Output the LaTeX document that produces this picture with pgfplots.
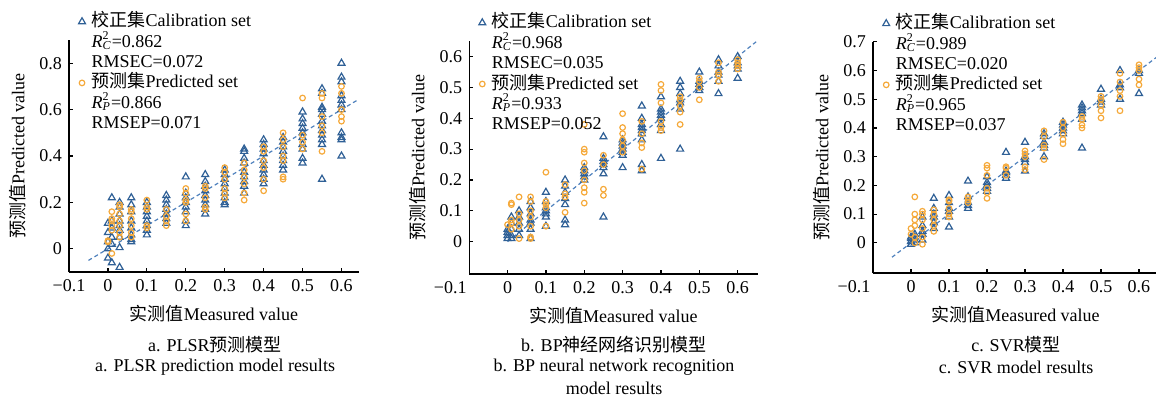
\documentclass[border=0pt]{standalone}
\usepackage{fontspec}
\setmainfont{Liberation Serif}
\newfontfamily\cjk{Noto Sans CJK SC}
\usepackage{pgfplots}
\pgfplotsset{compat=1.18}
\definecolor{calib}{HTML}{2F6096}
\definecolor{pred}{HTML}{F5A93A}
\definecolor{fitline}{HTML}{4F81BD}
\newcommand{\RC}{\textit{R}\rlap{\textsuperscript{2}}\textsubscript{\textit{C}}}
\newcommand{\RP}{\textit{R}\rlap{\textsuperscript{2}}\textsubscript{\textit{P}}}
\pgfplotsset{
  panel/.style={
    scale only axis,
    axis x line*=bottom, axis y line*=left,
    axis line style={line width=0.6pt},
    tick align=inside, major tick length=2pt,
    tick style={line width=0.6pt, black},
    /pgf/number format/assume math mode=true,
    tick label style={font=\fontsize{9}{10}\selectfont},
    label style={font=\fontsize{9}{10}\selectfont},
    xtick={-0.1,0,0.1,0.2,0.3,0.4,0.5,0.6},
    xlabel={{\cjk 实测值}Measured value},
    ylabel={{\cjk 预测值}Predicted value},
    clip=false,
    legend style={draw=none, fill=none, font=\fontsize{9}{10}\selectfont,
      at={(-0.036,1.14)}, anchor=north west, legend cell align=left,
      row sep=0.4pt, column sep=2.5pt,
      nodes={inner sep=0.6pt, text height=6.8pt, text depth=1.8pt}},
  },
  cal/.style={only marks, mark=triangle, mark size=2pt, color=calib, mark options={line width=0.6pt}},
  prd/.style={only marks, mark=o, mark size=1.4pt, color=pred, mark options={line width=0.6pt}},
  fit/.style={dashed, dash pattern=on 2pt off 1.5pt, color=fitline, line width=0.6pt, forget plot},
}
\begin{document}
\begin{tikzpicture}
% ---------------- Panel a ----------------
\begin{axis}[panel, name=ax1, at={(34.5pt,62.5pt)}, anchor=south west,
  width=145pt, height=116pt,
  xmin=-0.1, xmax=0.645, ymin=-0.1, ymax=0.9,
  xticklabels={−0.1,0,0.1,0.2,0.3,0.4,0.5,0.6},
  ytick={0,0.2,0.4,0.6,0.8}, yticklabels={0,0.2,0.4,0.6,0.8}]
\addplot[fit] coordinates {(-0.05,-0.05) (0.645,0.645)};
\addplot[cal] coordinates {
(0,0.11) (0,0.07) (0,0.03) (0,0.0) (0,-0.04)
(0.01,0.22) (0.01,0.12) (0.01,0.09) (0.01,0.05) (0.01,0.02) (0.01,-0.06)
(0.03,0.2) (0.03,0.18) (0.03,0.15) (0.03,0.12) (0.03,0.1) (0.03,0.08) (0.03,0.05) (0.03,0.005) (0.03,-0.08)
(0.06,0.22) (0.06,0.19) (0.06,0.16) (0.06,0.12) (0.06,0.09) (0.06,0.06) (0.06,0.04) (0.06,0.03)
(0.1,0.2) (0.1,0.18) (0.1,0.16) (0.1,0.14) (0.1,0.12) (0.1,0.1) (0.1,0.08) (0.1,0.06)
(0.15,0.23) (0.15,0.21) (0.15,0.19) (0.15,0.17) (0.15,0.15) (0.15,0.13) (0.15,0.11)
(0.2,0.31) (0.2,0.24) (0.2,0.22) (0.2,0.2) (0.2,0.18) (0.2,0.16) (0.2,0.12) (0.2,0.1)
(0.25,0.32) (0.25,0.29) (0.25,0.27) (0.25,0.25) (0.25,0.23) (0.25,0.21) (0.25,0.19) (0.25,0.17) (0.25,0.15)
(0.3,0.34) (0.3,0.32) (0.3,0.3) (0.3,0.28) (0.3,0.26) (0.3,0.24) (0.3,0.22) (0.3,0.2) (0.3,0.19)
(0.35,0.43) (0.35,0.42) (0.35,0.39) (0.35,0.37) (0.35,0.33) (0.35,0.31) (0.35,0.29) (0.35,0.27) (0.35,0.24)
(0.4,0.47) (0.4,0.45) (0.4,0.43) (0.4,0.41) (0.4,0.38) (0.4,0.36) (0.4,0.34) (0.4,0.32) (0.4,0.3) (0.4,0.28)
(0.45,0.48) (0.45,0.46) (0.45,0.44) (0.45,0.42) (0.45,0.4) (0.45,0.38) (0.45,0.36) (0.45,0.34)
(0.5,0.59) (0.5,0.56) (0.5,0.54) (0.5,0.52) (0.5,0.5) (0.5,0.48) (0.5,0.45) (0.5,0.43) (0.5,0.39) (0.5,0.37)
(0.55,0.69) (0.55,0.67) (0.55,0.61) (0.55,0.6) (0.55,0.58) (0.55,0.55) (0.55,0.53) (0.55,0.51) (0.55,0.49) (0.55,0.47) (0.55,0.45) (0.55,0.3)
(0.6,0.8) (0.6,0.74) (0.6,0.72) (0.6,0.66) (0.6,0.64) (0.6,0.62) (0.6,0.6) (0.6,0.5) (0.6,0.48) (0.6,0.47) (0.6,0.4)
};
\addlegendentry{{\cjk 校正集}Calibration set}
\addlegendimage{empty legend}\addlegendentry{\RC=0.862}
\addlegendimage{empty legend}\addlegendentry{RMSEC=0.072}
\addplot[prd] coordinates {
(0,0.03) (0,0.035)
(0.01,-0.02) (0.01,0.08) (0.01,0.1) (0.01,0.12) (0.01,0.13) (0.01,0.16)
(0.03,0.05) (0.03,0.07) (0.03,0.1) (0.03,0.12) (0.03,0.15) (0.03,0.18) (0.03,0.19)
(0.06,0.05) (0.06,0.07) (0.06,0.1) (0.06,0.13) (0.06,0.16) (0.06,0.17)
(0.1,0.09) (0.1,0.1) (0.1,0.17) (0.1,0.18) (0.1,0.21)
(0.15,0.1) (0.15,0.12) (0.15,0.14) (0.15,0.17)
(0.2,0.12) (0.2,0.15) (0.2,0.2) (0.2,0.21) (0.2,0.24) (0.2,0.26)
(0.25,0.17) (0.25,0.18) (0.25,0.22) (0.25,0.26) (0.25,0.27)
(0.3,0.22) (0.3,0.24) (0.3,0.26) (0.3,0.3) (0.3,0.33) (0.3,0.35)
(0.35,0.21) (0.35,0.24) (0.35,0.28) (0.35,0.31) (0.35,0.34) (0.35,0.37)
(0.4,0.25) (0.4,0.3) (0.4,0.35) (0.4,0.38) (0.4,0.42) (0.4,0.44)
(0.45,0.3) (0.45,0.31) (0.45,0.38) (0.45,0.4) (0.45,0.44) (0.45,0.47) (0.45,0.5)
(0.5,0.43) (0.5,0.46) (0.5,0.49) (0.5,0.65)
(0.55,0.42) (0.55,0.5) (0.55,0.53) (0.55,0.57) (0.55,0.65) (0.55,0.67)
(0.6,0.55) (0.6,0.57) (0.6,0.6) (0.6,0.67) (0.6,0.7)
};
\addlegendentry{{\cjk 预测集}Predicted set}
\addlegendimage{empty legend}\addlegendentry{\RP=0.866}
\addlegendimage{empty legend}\addlegendentry{RMSEP=0.071}
\end{axis}
% ---------------- Panel b ----------------
\begin{axis}[panel, name=ax2, at={(234.6pt,61.5pt)}, anchor=south west,
  width=144.2pt, height=116.4pt,
  xmin=-0.1, xmax=0.652, ymin=-0.105, ymax=0.65,
  xticklabels={−0.1\hspace*{19pt},0,0.1,0.2,0.3,0.4,0.5,0.6},
  ytick={0,0.1,0.2,0.3,0.4,0.5,0.6}, yticklabels={0,0.1,0.2,0.3,0.4,0.5,0.6}]
\addplot[fit] coordinates {(-0.0,-0.0) (0.652,0.652)};
\addplot[cal] coordinates {
(0,0.01) (0,0.02) (0,0.03) (0,0.04)
(0.01,0.01) (0.01,0.02) (0.01,0.04) (0.01,0.06) (0.01,0.08)
(0.03,0.02) (0.03,0.04) (0.03,0.06) (0.03,0.08) (0.03,0.1)
(0.06,0.01) (0.06,0.04) (0.06,0.06) (0.06,0.07) (0.06,0.09) (0.06,0.11) (0.06,0.13)
(0.1,0.05) (0.1,0.08) (0.1,0.09) (0.1,0.1) (0.1,0.11) (0.1,0.13) (0.1,0.16)
(0.15,0.055) (0.15,0.07) (0.15,0.12) (0.15,0.14) (0.15,0.16) (0.15,0.18) (0.15,0.2)
(0.2,0.2) (0.2,0.21) (0.2,0.22) (0.2,0.23) (0.2,0.24)
(0.25,0.08) (0.25,0.22) (0.25,0.24) (0.25,0.25) (0.25,0.26) (0.25,0.27) (0.25,0.34)
(0.3,0.24) (0.3,0.28) (0.3,0.29) (0.3,0.3) (0.3,0.31) (0.3,0.32) (0.3,0.33)
(0.35,0.23) (0.35,0.25) (0.35,0.33) (0.35,0.35) (0.35,0.36) (0.35,0.37) (0.35,0.38) (0.35,0.4) (0.35,0.44)
(0.4,0.27) (0.4,0.36) (0.4,0.38) (0.4,0.4) (0.4,0.41) (0.4,0.42) (0.4,0.43) (0.4,0.47)
(0.45,0.3) (0.45,0.43) (0.45,0.45) (0.45,0.46) (0.45,0.48) (0.45,0.5) (0.45,0.52)
(0.5,0.49) (0.5,0.5) (0.5,0.51) (0.5,0.52) (0.5,0.55)
(0.55,0.48) (0.55,0.52) (0.55,0.54) (0.55,0.55) (0.55,0.57) (0.55,0.59)
(0.6,0.53) (0.6,0.56) (0.6,0.57) (0.6,0.58) (0.6,0.6)
};
\addlegendentry{{\cjk 校正集}Calibration set}
\addlegendimage{empty legend}\addlegendentry{\RC=0.968}
\addlegendimage{empty legend}\addlegendentry{RMSEC=0.035}
\addplot[prd] coordinates {
(0,0.055)
(0.01,0.04) (0.01,0.06) (0.01,0.07) (0.01,0.12) (0.01,0.125)
(0.03,0.01) (0.03,0.05) (0.03,0.07) (0.03,0.09) (0.03,0.145)
(0.06,0.01) (0.06,0.015) (0.06,0.05) (0.06,0.08) (0.06,0.1) (0.06,0.13) (0.06,0.145)
(0.1,0.05) (0.1,0.11) (0.1,0.12) (0.1,0.13) (0.1,0.225)
(0.15,0.095) (0.15,0.145) (0.15,0.155) (0.15,0.185)
(0.2,0.125) (0.2,0.16) (0.2,0.175) (0.2,0.2) (0.2,0.23) (0.2,0.255) (0.2,0.29) (0.2,0.3) (0.2,0.38)
(0.25,0.15) (0.25,0.17) (0.25,0.25) (0.25,0.28)
(0.3,0.29) (0.3,0.31) (0.3,0.33) (0.3,0.35) (0.3,0.37) (0.3,0.415)
(0.35,0.235) (0.35,0.305) (0.35,0.32) (0.35,0.35) (0.35,0.39)
(0.4,0.36) (0.4,0.37) (0.4,0.39) (0.4,0.45) (0.4,0.49) (0.4,0.51)
(0.45,0.38) (0.45,0.42) (0.45,0.44) (0.45,0.46) (0.45,0.47)
(0.5,0.46) (0.5,0.5) (0.5,0.52) (0.5,0.53)
(0.55,0.52) (0.55,0.54) (0.55,0.55) (0.55,0.58)
(0.6,0.56) (0.6,0.57) (0.6,0.58) (0.6,0.59)
};
\addlegendentry{{\cjk 预测集}Predicted set}
\addlegendimage{empty legend}\addlegendentry{\RP=0.933}
\addlegendimage{empty legend}\addlegendentry{RMSEP=0.052}
\end{axis}
% ---------------- Panel c ----------------
\begin{axis}[panel, name=ax3, at={(436.5pt,62pt)}, anchor=south west,
  width=142.5pt, height=115.6pt,
  xmin=-0.1, xmax=0.65, ymin=-0.105, ymax=0.7,
  xticklabels={−0.1\hspace*{19pt},0,0.1,0.2,0.3,0.4,0.5,0.6},
  ytick={0,0.1,0.2,0.3,0.4,0.5,0.6,0.7}, yticklabels={0,0.1,0.2,0.3,0.4,0.5,0.6,0.7}]
\addplot[fit] coordinates {(-0.05,-0.05) (0.65,0.65)};
\addplot[cal] coordinates {
(0,-0.005) (0,0.005) (0,0.015) (0,0.02)
(0.01,0.0) (0.01,0.01) (0.01,0.02) (0.01,0.03)
(0.03,0.01) (0.03,0.03) (0.03,0.04) (0.03,0.06) (0.03,0.09)
(0.06,0.05) (0.06,0.07) (0.06,0.09) (0.06,0.1) (0.06,0.12) (0.06,0.155)
(0.1,0.055) (0.1,0.09) (0.1,0.11) (0.1,0.12) (0.1,0.14) (0.1,0.165)
(0.15,0.12) (0.15,0.13) (0.15,0.14) (0.15,0.16) (0.15,0.215)
(0.2,0.18) (0.2,0.19) (0.2,0.2) (0.2,0.21) (0.2,0.23)
(0.25,0.225) (0.25,0.235) (0.25,0.245) (0.25,0.25) (0.25,0.315)
(0.3,0.25) (0.3,0.28) (0.3,0.29) (0.3,0.3) (0.3,0.35)
(0.35,0.3) (0.35,0.33) (0.35,0.34) (0.35,0.35) (0.35,0.37) (0.35,0.38)
(0.4,0.38) (0.4,0.39) (0.4,0.4) (0.4,0.41) (0.4,0.42)
(0.45,0.33) (0.45,0.43) (0.45,0.45) (0.45,0.46) (0.45,0.47) (0.45,0.48)
(0.5,0.48) (0.5,0.49) (0.5,0.5) (0.5,0.535)
(0.55,0.5) (0.55,0.54) (0.55,0.55) (0.55,0.6)
(0.6,0.52) (0.6,0.59) (0.6,0.6)
};
\addlegendentry{{\cjk 校正集}Calibration set}
\addlegendimage{empty legend}\addlegendentry{\RC=0.989}
\addlegendimage{empty legend}\addlegendentry{RMSEC=0.020}
\addplot[prd] coordinates {
(0,0.03) (0,0.05)
(0.01,0.0) (0.01,0.02) (0.01,0.06) (0.01,0.08) (0.01,0.1) (0.01,0.16)
(0.03,-0.005) (0.03,0.02) (0.03,0.05) (0.03,0.08) (0.03,0.1) (0.03,0.11)
(0.06,0.04) (0.06,0.06) (0.06,0.08) (0.06,0.1) (0.06,0.115)
(0.1,0.09) (0.1,0.1) (0.1,0.12) (0.1,0.145) (0.1,0.15)
(0.15,0.14) (0.15,0.15) (0.15,0.16)
(0.2,0.155) (0.2,0.175) (0.2,0.19) (0.2,0.235) (0.2,0.26) (0.2,0.27)
(0.25,0.235) (0.25,0.26) (0.25,0.265)
(0.3,0.255) (0.3,0.265) (0.3,0.3) (0.3,0.31) (0.3,0.32)
(0.35,0.29) (0.35,0.33) (0.35,0.34) (0.35,0.37) (0.35,0.39)
(0.4,0.345) (0.4,0.36) (0.4,0.38) (0.4,0.4) (0.4,0.42)
(0.45,0.4) (0.45,0.41) (0.45,0.43) (0.45,0.44)
(0.5,0.435) (0.5,0.46) (0.5,0.48) (0.5,0.5) (0.5,0.51)
(0.55,0.46) (0.55,0.51) (0.55,0.53) (0.55,0.56) (0.55,0.59)
(0.6,0.55) (0.6,0.57) (0.6,0.6) (0.6,0.61) (0.6,0.62)
};
\addlegendentry{{\cjk 预测集}Predicted set}
\addlegendimage{empty legend}\addlegendentry{\RP=0.965}
\addlegendimage{empty legend}\addlegendentry{RMSEP=0.037}
\end{axis}
% ---------------- Captions ----------------
\begin{scope}[every node/.style={font=\fontsize{9}{10}\selectfont, inner sep=0pt}]
\node at (107.5pt,26pt) {a. PLSR{\cjk 预测模型}};
\node at (107.5pt,15pt) {a. PLSR prediction model results};
\node at (307pt,26pt) {b. BP{\cjk 神经网络识别模型}};
\node at (307pt,15pt) {b. BP neural network recognition};
\node at (307pt,4.5pt) {model results};
\node at (508pt,26pt) {c. SVR{\cjk 模型}};
\node at (508pt,15pt) {c. SVR model results};
\end{scope}
\pgfresetboundingbox
\path[use as bounding box] (0,0) rectangle (578pt,198.5pt);
\end{tikzpicture}
\end{document}
